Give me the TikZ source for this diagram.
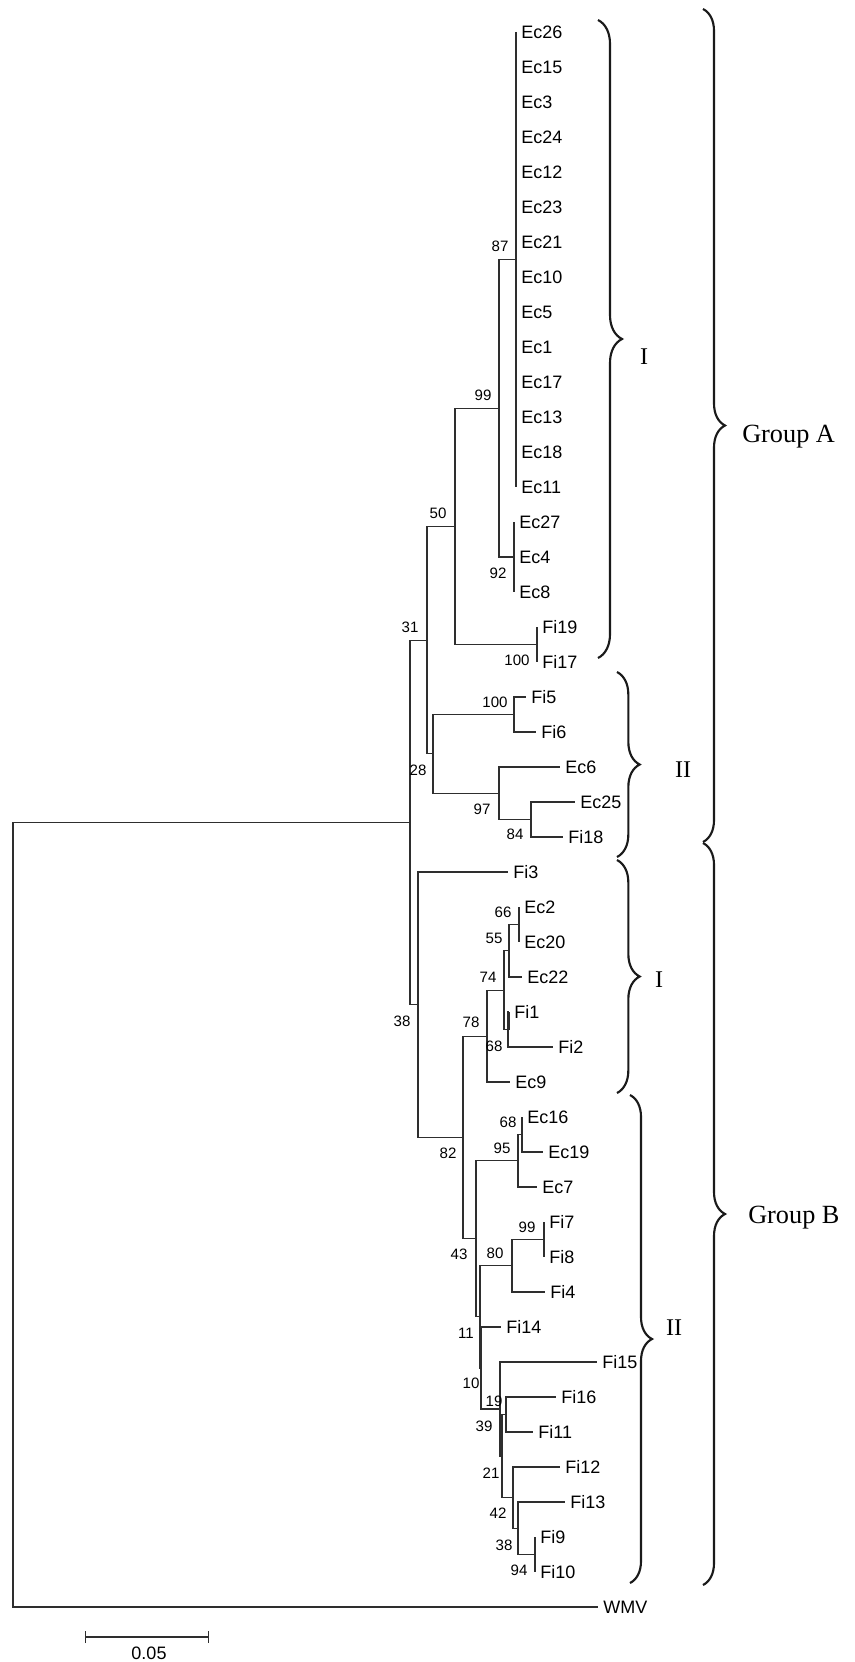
\documentclass[tikz,border=0pt]{standalone}
\usepackage{fontspec}
\setmainfont{Liberation Serif}
\setsansfont{Liberation Sans}
\usepackage{tikz}
\usetikzlibrary{arrows.meta,decorations.pathreplacing}
\definecolor{branch}{HTML}{2E2E2E}
\definecolor{inkbrace}{HTML}{1A1A1A}

\begin{document}
\begin{tikzpicture}[
  x=0.75pt,y=-0.75pt,
  leaf/.style={anchor=west,inner xsep=3.8pt,inner ysep=0pt,font=\sffamily\fontsize{13.5pt}{16pt}\selectfont},
  boot/.style={inner sep=0pt,font=\sffamily\fontsize{11.3pt}{13pt}\selectfont},
  br/.style={draw=branch,line width=0.8pt},
  comb/.style={draw=branch,line width=1.3pt},
  clade/.style={draw=inkbrace,line width=1.6pt,decorate,decoration={brace,amplitude=#1}},
  roman/.style={inner sep=0pt,font=\fontsize{18pt}{20pt}\selectfont},
  grp/.style={inner sep=0pt,anchor=base west,font=\fontsize{19.7pt}{22pt}\selectfont},
  scalebar/.style={draw=branch,line width=0.8pt,{Bar[width=9pt,line width=0.8pt]}-{Bar[width=9pt,line width=0.8pt]}}
]
\useasboundingbox (0,0) rectangle (854,1662);

\coordinate (root) at (13,1214.7);
\coordinate (nIn)  at (410,822.4);
\coordinate (n31)  at (427,640.1);
\coordinate (n50)  at (455,526.4);
\coordinate (n99)  at (499,408.3);
\coordinate (n87)  at (516,259.5);
\coordinate (n92)  at (514,557);
\coordinate (nFa)  at (537,644.5);
\coordinate (n28)  at (433,753.9);
\coordinate (nFb)  at (514,714.5);
\coordinate (n97)  at (499,793.3);
\coordinate (n84)  at (531,819.5);
\coordinate (n38)  at (418,1004.7);
\coordinate (n82)  at (463,1137.4);
\coordinate (n78)  at (487,1036.1);
\coordinate (n74)  at (504,990.1);
\coordinate (n55)  at (509,950.8);
\coordinate (n66)  at (519,924.5);
\coordinate (n68a) at (508,1029.5);
\coordinate (n43)  at (476,1238.8);
\coordinate (n95)  at (518,1160.8);
\coordinate (n68b) at (522,1134.5);
\coordinate (n11)  at (480,1316.9);
\coordinate (n80)  at (512,1265.8);
\coordinate (n99b) at (544,1239.5);
\coordinate (n10)  at (481,1368);
\coordinate (n19)  at (500,1409);
\coordinate (n39)  at (502,1456.1);
\coordinate (nFc)  at (506,1414.5);
\coordinate (n21)  at (513,1497.6);
\coordinate (n42)  at (518,1528.3);
\coordinate (n38b) at (535,1554.5);

\node[leaf] (Ec26) at (516,32)   {Ec26};
\node[leaf] (Ec15) at (516,67)   {Ec15};
\node[leaf] (Ec3)  at (516,102)  {Ec3};
\node[leaf] (Ec24) at (516,137)  {Ec24};
\node[leaf] (Ec12) at (516,172)  {Ec12};
\node[leaf] (Ec23) at (516,207)  {Ec23};
\node[leaf] (Ec21) at (516,242)  {Ec21};
\node[leaf] (Ec10) at (516,277)  {Ec10};
\node[leaf] (Ec5)  at (516,312)  {Ec5};
\node[leaf] (Ec1)  at (516,347)  {Ec1};
\node[leaf] (Ec17) at (516,382)  {Ec17};
\node[leaf] (Ec13) at (516,417)  {Ec13};
\node[leaf] (Ec18) at (516,452)  {Ec18};
\node[leaf] (Ec11) at (516,487)  {Ec11};
\node[leaf] (Ec27) at (514,522)  {Ec27};
\node[leaf] (Ec4)  at (514,557)  {Ec4};
\node[leaf] (Ec8)  at (514,592)  {Ec8};
\node[leaf] (Fi19) at (537,627)  {Fi19};
\node[leaf] (Fi17) at (537,662)  {Fi17};
\node[leaf] (Fi5)  at (526,697)  {Fi5};
\node[leaf] (Fi6)  at (536,732)  {Fi6};
\node[leaf] (Ec6)  at (560,767)  {Ec6};
\node[leaf] (Ec25) at (575,802)  {Ec25};
\node[leaf] (Fi18) at (563,837)  {Fi18};
\node[leaf] (Fi3)  at (508,872)  {Fi3};
\node[leaf] (Ec2)  at (519,907)  {Ec2};
\node[leaf] (Ec20) at (519,942)  {Ec20};
\node[leaf] (Ec22) at (522,977)  {Ec22};
\node[leaf] (Fi1)  at (509,1012) {Fi1};
\node[leaf] (Fi2)  at (553,1047) {Fi2};
\node[leaf] (Ec9)  at (510,1082) {Ec9};
\node[leaf] (Ec16) at (522,1117) {Ec16};
\node[leaf] (Ec19) at (543,1152) {Ec19};
\node[leaf] (Ec7)  at (537,1187) {Ec7};
\node[leaf] (Fi7)  at (544,1222) {Fi7};
\node[leaf] (Fi8)  at (544,1257) {Fi8};
\node[leaf] (Fi4)  at (545,1292) {Fi4};
\node[leaf] (Fi14) at (501,1327) {Fi14};
\node[leaf] (Fi15) at (597,1362) {Fi15};
\node[leaf] (Fi16) at (556,1397) {Fi16};
\node[leaf] (Fi11) at (533,1432) {Fi11};
\node[leaf] (Fi12) at (560,1467) {Fi12};
\node[leaf] (Fi13) at (565,1502) {Fi13};
\node[leaf] (Fi9)  at (535,1537) {Fi9};
\node[leaf] (Fi10) at (535,1572) {Fi10};
\node[leaf] (WMV)  at (598,1607) {WMV};

\draw[br] (root) |- (nIn); \draw[br] (root) |- (WMV);
\draw[br] (nIn) |- (n31); \draw[br] (nIn) |- (n38);
\draw[br] (n31) |- (n50); \draw[br] (n31) |- (n28);
\draw[br] (n50) |- (n99); \draw[br] (n50) |- (nFa);
\draw[br] (n99) |- (n87); \draw[br] (n99) |- (n92);
\draw[br] (n87) |- (Ec26); \draw[br] (n87) |- (Ec15); \draw[br] (n87) |- (Ec3);
\draw[br] (n87) |- (Ec24); \draw[br] (n87) |- (Ec12); \draw[br] (n87) |- (Ec23);
\draw[br] (n87) |- (Ec21); \draw[br] (n87) |- (Ec10); \draw[br] (n87) |- (Ec5);
\draw[br] (n87) |- (Ec1); \draw[br] (n87) |- (Ec17); \draw[br] (n87) |- (Ec13);
\draw[br] (n87) |- (Ec18); \draw[br] (n87) |- (Ec11);
\draw[br] (n92) |- (Ec27); \draw[br] (n92) |- (Ec4); \draw[br] (n92) |- (Ec8);
\draw[br] (nFa) |- (Fi19); \draw[br] (nFa) |- (Fi17);
\draw[br] (n28) |- (nFb); \draw[br] (n28) |- (n97);
\draw[br] (nFb) |- (Fi5); \draw[br] (nFb) |- (Fi6);
\draw[br] (n97) |- (Ec6); \draw[br] (n97) |- (n84);
\draw[br] (n84) |- (Ec25); \draw[br] (n84) |- (Fi18);
\draw[br] (n38) |- (Fi3); \draw[br] (n38) |- (n82);
\draw[br] (n82) |- (n78); \draw[br] (n82) |- (n43);
\draw[br] (n78) |- (n74); \draw[br] (n78) |- (Ec9);
\draw[br] (n74) |- (n55); \draw[br] (n74) |- (n68a);
\draw[br] (n55) |- (n66); \draw[br] (n55) |- (Ec22);
\draw[br] (n66) |- (Ec2); \draw[br] (n66) |- (Ec20);
\draw[br] (n68a) |- (Fi1); \draw[br] (n68a) |- (Fi2);
\draw[br] (n43) |- (n95); \draw[br] (n43) |- (n11);
\draw[br] (n95) |- (n68b); \draw[br] (n95) |- (Ec7);
\draw[br] (n68b) |- (Ec16); \draw[br] (n68b) |- (Ec19);
\draw[br] (n11) |- (n80); \draw[br] (n11) |- (n10);
\draw[br] (n80) |- (n99b); \draw[br] (n80) |- (Fi4);
\draw[br] (n99b) |- (Fi7); \draw[br] (n99b) |- (Fi8);
\draw[br] (n10) |- (Fi14); \draw[br] (n10) |- (n19);
\draw[br] (n19) |- (Fi15); \draw[br] (n19) |- (n39);
\draw[br] (n39) |- (nFc); \draw[br] (n39) |- (n21);
\draw[br] (nFc) |- (Fi16); \draw[br] (nFc) |- (Fi11);
\draw[br] (n21) |- (Fi12); \draw[br] (n21) |- (n42);
\draw[br] (n42) |- (Fi13); \draw[br] (n42) |- (n38b);
\draw[br] (n38b) |- (Fi9); \draw[br] (n38b) |- (Fi10);

\draw[comb] (Ec26.west) -- (Ec11.west);
\draw[comb] (Ec27.west) -- (Ec8.west);
\draw[comb] (Fi19.west) -- (Fi17.west);
\draw[comb] (Ec2.west) -- (Ec20.west);
\draw[comb] (Fi7.west) -- (Fi8.west);
\draw[comb] (Fi9.west) -- (Fi10.west);
\draw[comb] (Ec16.west) -- (n68b);
\draw[comb] (Fi1.west) -- (Fi1.west |- n68a);

\node[boot] (b87)  at (500,246)  {87};
\node[boot] (b99)  at (483,395)  {99};
\node[boot] (b92)  at (498,573)  {92};
\node[boot] (b50)  at (438,513)  {50};
\node[boot] (b31)  at (410,627)  {31};
\node[boot] (b100a) at (517,660) {100};
\node[boot] (b100b) at (495,702) {100};
\node[boot] (b28)  at (418,770)  {28};
\node[boot] (b97)  at (482,809)  {97};
\node[boot] (b84)  at (515,834)  {84};
\node[boot] (b66)  at (503,912)  {66};
\node[boot] (b55)  at (494,938)  {55};
\node[boot] (b74)  at (488,977)  {74};
\node[boot] (b78)  at (471,1022) {78};
\node[boot] (b38a) at (402,1021) {38};
\node[boot] (b68a) at (494,1046) {68};
\node[boot] (b68b) at (508,1122) {68};
\node[boot] (b95)  at (502,1148) {95};
\node[boot] (b82)  at (448,1153) {82};
\node[boot] (b99b) at (527,1227) {99};
\node[boot] (b80)  at (495,1253) {80};
\node[boot] (b43)  at (459,1254) {43};
\node[boot] (b11)  at (466,1333) {11};
\node[boot] (b10)  at (471,1383) {10};
\node[boot] (b19)  at (494,1401) {19};
\node[boot] (b39)  at (484,1426) {39};
\node[boot] (b21)  at (491,1473) {21};
\node[boot] (b42)  at (498,1513) {42};
\node[boot] (b38b) at (504,1545) {38};
\node[boot] (b94)  at (519,1570) {94};

\coordinate (aIt)  at (598,20);   \coordinate (aIb)  at (598,658);
\coordinate (aIIt) at (617,672);  \coordinate (aIIb) at (617,857);
\coordinate (bIt)  at (617,860);  \coordinate (bIb)  at (617,1093);
\coordinate (bIIt) at (630,1095); \coordinate (bIIb) at (630,1583);
\coordinate (gAt)  at (703,9);    \coordinate (gAb)  at (703,842);
\coordinate (gBt)  at (703,843);  \coordinate (gBb)  at (703,1585);
\draw[clade=18pt] (aIt) -- (aIb);
\draw[clade=17pt] (aIIt) -- (aIIb);
\draw[clade=17pt] (bIt) -- (bIb);
\draw[clade=16.5pt] (bIIt) -- (bIIb);
\draw[clade=16.5pt] (gAt) -- (gAb);
\draw[clade=16.5pt] (gBt) -- (gBb);
\node[roman] (tAI)  at (644,357)  {I};
\node[roman] (tAII) at (683,770)  {II};
\node[roman] (tBI)  at (659,980)  {I};
\node[roman] (tBII) at (674,1328) {II};
\node[grp] (tA) at (742,442)  {Group A};
\node[grp] (tB) at (748,1223) {Group B};

\coordinate (s0) at (85,1637); \coordinate (s1) at (209,1637);
\draw[scalebar] (s0) -- (s1);
\node[boot,font=\sffamily\fontsize{13.5pt}{16pt}\selectfont] (sclab) at (149,1653) {0.05};
\end{tikzpicture}
\end{document}
